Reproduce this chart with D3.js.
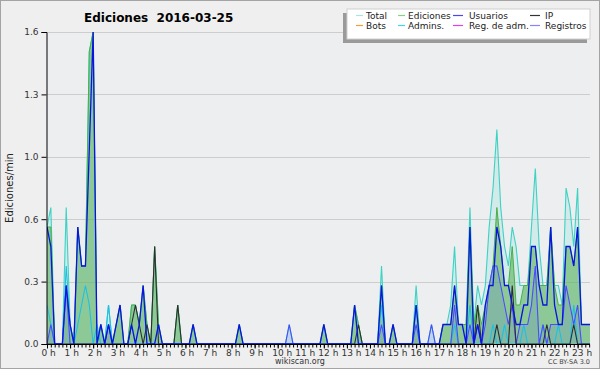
<!DOCTYPE html>
<html>
<head>
<meta charset="utf-8">
<script src="https://cdnjs.cloudflare.com/ajax/libs/d3/7.8.5/d3.min.js"></script>
<style>
  body { margin: 0; background: #fff; }
  text { font-family: "DejaVu Sans", sans-serif; }
</style>
</head>
<body>
<script>
// edits per 10-minute slot, one row per hour (0 h ... 23 h)
const total = [
  6,7,0,0,0,7,  1,0,6,4,4,15,  16,0,1,0,2,0,  1,2,0,0,2,2,
  1,3,1,0,5,1,  0,0,0,0,2,0,   0,0,1,0,0,0,   0,0,0,0,0,0,
  0,0,1,0,0,0,  0,0,0,0,0,0,   0,0,0,1,0,0,   0,0,0,0,0,0,
  1,0,0,0,0,0,  0,0,2,1,0,0,   0,0,0,4,0,0,   1,0,0,0,0,0,
  3,0,0,0,1,0,  0,1,1,2,5,1,   1,1,7,1,3,2,   3,6,8,11,7,5,
  4,6,5,3,3,3,  6,9,5,3,3,6,   3,3,2,8,7,5,   8,1,1,1,1
]
const ediciones = [
  6,6,0,0,0,3,  1,0,6,4,4,15,  16,0,1,0,1,0,  1,2,0,0,2,2,
  1,3,1,0,5,1,  0,0,0,0,2,0,   0,0,1,0,0,0,   0,0,0,0,0,0,
  0,0,1,0,0,0,  0,0,0,0,0,0,   0,0,0,0,0,0,   0,0,0,0,0,0,
  1,0,0,0,0,0,  0,0,2,1,0,0,   0,0,0,3,0,0,   1,0,0,0,0,0,
  2,0,0,0,0,0,  0,1,1,1,3,1,   1,1,6,1,2,1,   2,3,4,7,5,3,
  3,5,2,2,3,3,  5,5,3,3,3,6,   3,2,2,5,5,4,   6,1,1,1,1
]
const usuarios = [
  6,5,0,0,0,3,  1,0,6,4,4,10,  16,0,1,0,1,0,  1,2,0,0,1,0,
  1,3,0,0,0,1,  0,0,0,0,0,0,   0,0,1,0,0,0,   0,0,0,0,0,0,
  0,0,1,0,0,0,  0,0,0,0,0,0,   0,0,0,0,0,0,   0,0,0,0,0,0,
  1,0,0,0,0,0,  0,0,2,0,0,0,   0,0,0,3,0,0,   1,0,0,0,0,0,
  2,0,0,0,0,0,  0,1,1,1,3,1,   1,0,6,0,1,0,   2,3,3,6,5,3,
  3,2,1,1,2,2,  5,5,3,2,2,6,   2,1,1,5,5,4,   6,1,1,1,1
]
const ip = [
  0,0,0,0,0,0,  0,0,0,0,0,0,   0,0,0,0,0,0,   0,0,0,0,1,2,
  1,0,1,0,5,0,  0,0,0,0,2,0,   0,0,0,0,0,0,   0,0,0,0,0,0,
  0,0,0,0,0,0,  0,0,0,0,0,0,   0,0,0,0,0,0,   0,0,0,0,0,0,
  0,0,0,0,0,0,  0,0,0,1,0,0,   0,0,0,0,0,0,   0,0,0,0,0,0,
  0,0,0,0,0,0,  0,0,0,0,0,0,   0,0,0,0,2,0,   0,0,0,1,0,0,
  0,3,0,0,0,0,  0,0,0,0,1,0,   0,0,0,0,0,1,   0,0,0,0,0
]
const registros = [
  0,1,0,0,0,3,  0,0,0,0,0,0,   0,0,0,0,1,0,   0,0,0,0,0,0,
  0,0,0,0,0,0,  0,0,0,0,0,0,   0,0,0,0,0,0,   0,0,0,0,0,0,
  0,0,0,0,0,0,  0,0,0,0,0,0,   0,0,0,1,0,0,   0,0,0,0,0,0,
  0,0,0,0,0,0,  0,0,0,0,0,0,   0,0,0,1,0,0,   0,0,0,0,0,0,
  1,0,0,0,1,0,  0,0,0,0,2,0,   0,0,1,0,1,0,   1,3,4,4,3,2,
  1,2,0,1,1,1,  2,4,0,1,0,1,   1,1,1,3,2,1,   2,0,0,0,0
]
const admins = [
  2,1,0,0,0,4,  1,0,1,2,3,2,   0,1,0,0,2,0,   0,0,0,0,0,0,
  0,0,0,0,0,0,  0,0,0,0,0,0,   0,0,0,0,0,0,   0,0,0,0,0,0,
  0,0,0,0,0,0,  0,0,0,0,0,0,   0,0,0,0,0,0,   0,0,0,0,0,0,
  0,0,0,0,0,0,  0,0,0,0,0,0,   0,0,0,2,0,0,   0,0,0,0,0,0,
  2,0,0,0,0,0,  0,0,0,0,1,0,   0,0,2,0,0,0,   0,0,1,0,0,1,
  0,0,0,0,1,0,  0,0,0,1,0,0,   0,1,0,0,0,2,   0,0,0,0,0
]

const hours = d3.range(0, 24)
const yMajor = [0, 0.32, 0.64, 0.96, 1.28, 1.6]

const legendItems = [
  { name: 'Total', color: '#a6e6e0' },
  { name: 'Ediciones', color: '#88d088' },
  { name: 'Usuarios', color: '#4848ee' },
  { name: 'IP', color: '#333333' },
  { name: 'Bots', color: '#f5a030' },
  { name: 'Admins.', color: '#44d4e4' },
  { name: 'Reg. de adm.', color: '#e040e8' },
  { name: 'Registros', color: '#8484ff' }
]

const width = 600, height = 370
const plotLeft = 47, plotRight = 590, plotTop = 32, plotBottom = 344
const slot = 3.845 // px per 10 minutes

const svg = d3.select('body').append('svg')
    .attr('width', width)
    .attr('height', height)

svg.append('rect')
    .attr('x', 0.5).attr('y', 0.5)
    .attr('width', width - 1).attr('height', height - 2)
    .attr('fill', '#efefef')
    .attr('stroke', '#a4a4a4')

svg.append('rect')
    .attr('x', plotLeft).attr('y', plotTop)
    .attr('width', plotRight - plotLeft).attr('height', plotBottom - plotTop)
    .attr('fill', '#eceef0')

const x = d3.scaleLinear().domain([0, 144]).range([plotLeft, plotLeft + 144 * slot])
const y = d3.scaleLinear().domain([0, 1.6]).range([plotBottom, plotTop])
const val = (d) => d / 10

// grid
svg.append('g').selectAll('line').data(yMajor.slice(1)).enter()
  .append('line')
    .attr('x1', plotLeft).attr('x2', plotRight)
    .attr('y1', (d) => Math.round(y(d)) + 0.5)
    .attr('y2', (d) => Math.round(y(d)) + 0.5)
    .attr('stroke', '#cdcdcd')

svg.append('clipPath').attr('id', 'plot')
  .append('rect')
    .attr('x', plotLeft).attr('y', 20)
    .attr('width', plotRight - plotLeft).attr('height', plotBottom - 20)

const g = svg.append('g').attr('clip-path', 'url(#plot)')

const area = d3.area()
    .x((d, i) => x(i))
    .y0(y(0))
    .y1((d) => y(val(d)))
const line = d3.line()
    .x((d, i) => x(i))
    .y((d) => y(val(d)))

g.append('path').attr('d', area(total)).attr('fill', '#44d6c6').attr('fill-opacity', 0.15)
g.append('path').attr('d', area(ediciones)).attr('fill', '#5cb25c').attr('fill-opacity', 0.58)
g.append('path').attr('d', area(registros)).attr('fill', '#4040ff').attr('fill-opacity', 0.12)

const lines = [
  { data: total, color: '#3cd2c4', w: 1.1 },
  { data: ediciones, color: '#48b048', w: 1 },
  { data: admins, color: '#1ec0e4', w: 1.1 },
  { data: registros, color: '#4b4bff', w: 1.1 },
  { data: ip, color: '#2e2e2e', w: 1.1 },
  { data: usuarios, color: '#0a14e0', w: 1.3 }
]
lines.forEach((s) => {
  g.append('path')
      .attr('d', line(s.data))
      .attr('fill', 'none')
      .attr('stroke', s.color)
      .attr('stroke-width', s.w)
})

// y axis
const yAxis = svg.append('g').attr('transform', `translate(${plotLeft - 0.5},0)`)
yAxis.call(d3.axisLeft(y).tickValues(d3.range(0, 1.61, 0.08)).tickSize(3).tickFormat(''))
yAxis.call(d3.axisLeft(y).tickValues(yMajor).tickSize(5).tickFormat(d3.format('.1f')))
yAxis.selectAll('path.domain').attr('stroke', '#000')
yAxis.selectAll('text').attr('font-size', 9).attr('fill', '#333').attr('font-family', '"DejaVu Sans", sans-serif')

// x axis
const minor = d3.range(0, 142)
const xAxis = svg.append('g').attr('transform', `translate(0,${plotBottom + 0.5})`)
xAxis.call(d3.axisBottom(x).tickValues(minor).tickSize(3).tickFormat('').tickSizeOuter(0))
xAxis.selectAll('path.domain').remove()
xAxis.append('line').attr('x1', plotLeft - 0.5).attr('x2', plotRight).attr('stroke', '#000')
const hourAxis = svg.append('g').attr('transform', `translate(0,${plotBottom + 0.5})`)
hourAxis.call(d3.axisBottom(x).tickValues(hours.map((h) => h * 6)).tickSize(4).tickFormat((d) => `${d / 6} h`))
hourAxis.selectAll('path.domain').remove()
hourAxis.selectAll('text')
    .attr('font-size', 9).attr('fill', '#333')
    .attr('font-family', '"DejaVu Sans", sans-serif')
    .attr('text-anchor', 'start').attr('dx', -6).attr('y', 5)

// texts
svg.append('text')
    .attr('x', 84).attr('y', 22)
    .attr('font-size', 12).attr('font-weight', 'bold')
    .style('white-space', 'pre')
    .text('Ediciones  2016-03-25')

svg.append('text')
    .attr('transform', 'translate(13,188) rotate(-90)')
    .attr('text-anchor', 'middle')
    .attr('font-size', 10)
    .attr('font-family', '"DejaVu Sans Mono", monospace')
    .attr('fill', '#222')
    .text('Ediciones/min')

svg.append('text')
    .attr('x', 300).attr('y', 364)
    .attr('text-anchor', 'middle')
    .attr('font-size', 8).attr('fill', '#333')
    .text('wikiscan.org')

svg.append('text')
    .attr('x', 590).attr('y', 364)
    .attr('text-anchor', 'end')
    .attr('font-size', 6.5).attr('fill', '#444')
    .text('CC BY-SA 3.0')

// legend
const lg = svg.append('g')
lg.append('rect').attr('x', 343).attr('y', 13).attr('width', 244).attr('height', 30).attr('fill', '#9a9a9a')
lg.append('rect').attr('x', 347).attr('y', 9).attr('width', 243).attr('height', 30)
    .attr('fill', '#fff').attr('stroke', '#d0d0d0')
const colSwatch = [356, 398, 453, 530]
const colText = [366, 408, 469, 545]
const swatchLen = [7, 7, 10, 10]
legendItems.forEach((d, i) => {
  const c = i % 4, r = Math.floor(i / 4)
  const cy = 19 + r * 10
  lg.append('line')
      .attr('x1', colSwatch[c]).attr('x2', colSwatch[c] + swatchLen[c])
      .attr('y1', cy - 3.5).attr('y2', cy - 3.5)
      .attr('stroke', d.color).attr('stroke-width', 1.2)
  lg.append('text')
      .attr('x', colText[c]).attr('y', cy)
      .attr('font-size', 9).attr('fill', '#222')
      .text(d.name)
})
</script>
</body>
</html>
